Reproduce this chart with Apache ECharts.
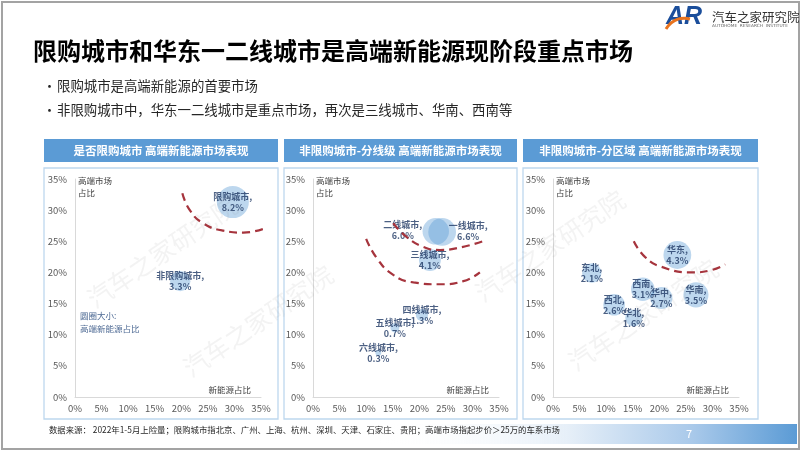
<!DOCTYPE html>
<html><head><meta charset="utf-8">
<script src="https://cdn.jsdelivr.net/npm/echarts/dist/echarts.min.js"></script>
<style>html,body{margin:0;padding:0;background:#fff}#c{width:802px;height:451px}</style>
</head><body><div id="c"></div>
<script>
// ---------- text ----------
const titleText = '限购城市和华东一二线城市是高端新能源现阶段重点市场';
const bullets = ['限购城市是高端新能源的首要市场', '非限购城市中，华东一二线城市是重点市场，再次是三线城市、华南、西南等'];
const panelTitles = ['是否限购城市 高端新能源市场表现', '非限购城市-分线级 高端新能源市场表现', '非限购城市-分区域 高端新能源市场表现'];
const sourceNote = '数据来源： 2022年1-5月上险量；限购城市指北京、广州、上海、杭州、深圳、天津、石家庄、贵阳；高端市场指起步价＞25万的车系市场';
const yAxisTitle = '高端市场\n占比';
const xAxisTitle = '新能源占比';
const sizeNote = '圆圈大小:\n高端新能源占比';
const pageNo = '7';
const axisMin = 0, axisMax = 35, axisStep = 5;

// ---------- panel 1: 是否限购 ----------
const p1Names   = ['限购城市', '非限购城市'];
const p1NEV     = [29.7, 19.8];   // 新能源占比 %
const p1Premium = [31.3, 18.6];   // 高端市场占比 %
const p1Share   = [8.2, 3.3];     // 高端新能源占比 % (bubble size)
const p1CurveX  = [20.2, 21.6, 24.1, 27.9, 31.7, 35.8];
const p1CurveY  = [32.7, 30.0, 27.9, 26.7, 26.4, 27.1];

// ---------- panel 2: 分线级 ----------
const p2Names   = ['一线城市', '二线城市', '三线城市', '四线城市', '五线城市', '六线城市'];
const p2NEV     = [24.3, 23.1, 22.0, 20.5, 15.4, 12.3];
const p2Premium = [26.5, 26.6, 22.0, 13.2, 11.1, 7.1];
const p2Share   = [6.6, 6.0, 4.1, 1.3, 0.7, 0.3];
const p2InnerX  = [15.1, 17.6, 20.8, 23.9, 27.7, 32.0];
const p2InnerY  = [27.9, 25.7, 24.1, 23.6, 24.0, 25.0];
const p2OuterX  = [10.0, 12.0, 15.1, 18.9, 23.9, 28.3, 31.4];
const p2OuterY  = [25.4, 22.3, 19.6, 18.4, 18.1, 18.6, 20.0];

// ---------- panel 3: 分区域 ----------
const p3Names   = ['华东', '华南', '华中', '西南', '华北', '西北', '东北'];
const p3NEV     = [23.4, 26.9, 20.4, 16.9, 15.2, 11.5, 7.3];
const p3Premium = [22.8, 16.4, 15.9, 17.3, 12.7, 14.8, 19.9];
const p3Share   = [4.3, 3.5, 2.7, 3.1, 1.6, 2.6, 2.1];
const p3CurveX  = [15.2, 17.3, 20.4, 26.1, 29.9, 32.4];
const p3CurveY  = [25.0, 22.5, 20.9, 20.0, 20.4, 21.3];

// ---------- layout / style ----------
const FONT = '"Noto Sans CJK SC","Noto Sans",sans-serif';
const grids = [
  {left: 75, top: 179, width: 186, height: 218},
  {left: 313, top: 179, width: 186, height: 218},
  {left: 553, top: 179, width: 186, height: 218}
];
const panels = [{x: 44, w: 234}, {x: 284, w: 233}, {x: 523, w: 235}];
const bubbleK = [11.2, 10.8, 13.4];
const labelOffsets = {'一线城市': [26, -1], '二线城市': [-33, -1]};

const chart = echarts.init(document.getElementById('c'), null, {renderer: 'canvas'});

function zip(a, b) { return a.map((v, i) => [v, b[i]]); }
function bubbleData(names, xs, ys, ss) {
  return names.map((n, i) => {
    const d = {name: n, value: [xs[i], ys[i], ss[i]]};
    if (labelOffsets[n]) d.label = {position: 'inside', offset: labelOffsets[n]};
    return d;
  });
}

const xAxes = [], yAxes = [];
for (let i = 0; i < 3; i++) {
  const common = {
    type: 'value', gridIndex: i, min: axisMin, max: axisMax, interval: axisStep,
    splitLine: {show: false}, axisTick: {show: false},
    axisLine: {show: true, lineStyle: {color: '#D9D9D9', width: 1}},
    axisLabel: {formatter: '{value}%', color: '#595959', fontSize: 9.5, fontFamily: FONT, showMinLabel: true, showMaxLabel: true}
  };
  xAxes.push(Object.assign({}, common, {axisLabel: Object.assign({}, common.axisLabel, {margin: 7})}));
  yAxes.push(Object.assign({}, common, {axisLabel: Object.assign({}, common.axisLabel, {margin: 8})}));
}

function scatter(idx, names, xs, ys, ss) {
  return {
    type: 'scatter', xAxisIndex: idx, yAxisIndex: idx, z: 3,
    data: bubbleData(names, xs, ys, ss),
    symbolSize: v => bubbleK[idx] * Math.sqrt(v[2]),
    itemStyle: {color: 'rgba(91,155,213,0.5)'},
    label: {
      show: true, position: 'inside', color: '#1F3864', fontSize: 9, lineHeight: 11, fontFamily: FONT, fontWeight: 'bold',
      formatter: p => p.name + ',\n' + p.value[2].toFixed(1) + '%'
    },
    emphasis: {disabled: true}
  };
}
function curve(idx, xs, ys) {
  return {
    type: 'line', xAxisIndex: idx, yAxisIndex: idx, z: 4, clip: false,
    data: zip(xs, ys), smooth: 0.5, symbol: 'none',
    lineStyle: {color: '#A6343D', width: 2.2, type: [8, 5]},
    silent: true
  };
}

const graphic = [];
// frame
graphic.push({type: 'rect', z: 0, shape: {x: 2, y: 2, width: 797, height: 447}, style: {fill: 'none', stroke: '#A3A3A3', lineWidth: 2}});
// title & bullets
graphic.push({type: 'text', z: 10, x: 33, y: 51, style: {text: titleText, font: 'bold 24px ' + FONT, fill: '#000', verticalAlign: 'middle'}});
bullets.forEach((b, i) => {
  const y = 86 + i * 24;
  graphic.push({type: 'text', z: 10, x: 43, y: y, style: {text: '•', font: '13px ' + FONT, fill: '#262626', verticalAlign: 'middle'}});
  graphic.push({type: 'text', z: 10, x: 57, y: y, style: {text: b, font: '13.4px ' + FONT, fill: '#262626', verticalAlign: 'middle'}});
});
// panels
panels.forEach((p, i) => {
  graphic.push({type: 'rect', z: 1, shape: {x: p.x, y: 139, width: p.w, height: 23}, style: {fill: '#5B9BD5'}});
  graphic.push({type: 'text', z: 10, x: p.x + p.w / 2, y: 151, style: {text: panelTitles[i], font: 'bold 11.5px ' + FONT, fill: '#fff', align: 'center', verticalAlign: 'middle'}});
  graphic.push({type: 'rect', z: 1, shape: {x: p.x, y: 168, width: p.w, height: 251}, style: {fill: 'none', stroke: '#BDD7EE', lineWidth: 1.3}});
  const g = grids[i];
  graphic.push({type: 'text', z: 10, x: g.left + 3, y: 175, style: {text: yAxisTitle, font: '8.5px ' + FONT, fill: '#404040', lineHeight: 12}});
  graphic.push({type: 'text', z: 10, x: g.left + 176, y: 390, style: {text: xAxisTitle, font: '8.5px ' + FONT, fill: '#404040', align: 'right', verticalAlign: 'middle'}});
});
graphic.push({type: 'text', z: 10, x: 80, y: 309, style: {text: sizeNote, font: '8.5px ' + FONT, fill: '#4E6A94', lineHeight: 13}});
// footer
graphic.push({type: 'text', z: 10, x: 49, y: 430, style: {text: sourceNote, font: '8.4px ' + FONT, fill: '#262626', verticalAlign: 'middle'}});
graphic.push({type: 'rect', z: 1, shape: {x: 380, y: 424, width: 417, height: 20}, style: {
  fill: new echarts.graphic.LinearGradient(0, 0, 1, 0, [
    {offset: 0, color: 'rgba(255,255,255,0)'}, {offset: 0.45, color: '#E6EFF8'},
    {offset: 0.75, color: '#A9C9EA'}, {offset: 1, color: '#5B9BD5'}])}});
graphic.push({type: 'text', z: 10, x: 689, y: 434, style: {text: pageNo, font: '11px ' + FONT, fill: '#fff', align: 'center', verticalAlign: 'middle'}});
// logo
graphic.push({type: 'text', z: 10, x: 666, y: 5, style: {text: 'AR', font: 'italic 900 25px "Liberation Sans",sans-serif', fill: '#1B4E9B'}});
graphic.push({type: 'bezierCurve', z: 11, shape: {x1: 666, y1: 29, x2: 690, y2: 19, cpx1: 673, cpy1: 18, cpx2: 683, cpy2: 17}, style: {stroke: '#E8731E', lineWidth: 3, fill: 'none'}});
graphic.push({type: 'text', z: 10, x: 712, y: 17, style: {text: '汽车之家研究院', font: '12.5px ' + FONT, fill: '#333', verticalAlign: 'middle'}});
graphic.push({type: 'text', z: 10, x: 712, y: 26, style: {text: 'AUTOHOME  RESEARCH  INSTITUTE', font: '4.3px "DejaVu Sans",sans-serif', fill: '#666', verticalAlign: 'middle'}});
// watermarks
const wm = '汽车之家研究院';
[[162, 252], [258, 321], [550, 246], [643, 315]].forEach(c => {
  graphic.push({type: 'text', z: 100, x: c[0], y: c[1], rotation: 0.6, silent: true,
    style: {text: wm, font: '25px ' + FONT, fill: 'rgba(120,120,120,0.09)', align: 'center', verticalAlign: 'middle'}});
});

chart.setOption({
  animation: false,
  textStyle: {fontFamily: FONT},
  grid: grids.map(g => Object.assign({containLabel: false, outerBoundsMode: 'none'}, g)),
  xAxis: xAxes, yAxis: yAxes,
  series: [
    scatter(0, p1Names, p1NEV, p1Premium, p1Share),
    curve(0, p1CurveX, p1CurveY),
    scatter(1, p2Names, p2NEV, p2Premium, p2Share),
    curve(1, p2InnerX, p2InnerY),
    curve(1, p2OuterX, p2OuterY),
    scatter(2, p3Names, p3NEV, p3Premium, p3Share),
    curve(2, p3CurveX, p3CurveY)
  ],
  graphic: graphic
});
</script></body></html>
